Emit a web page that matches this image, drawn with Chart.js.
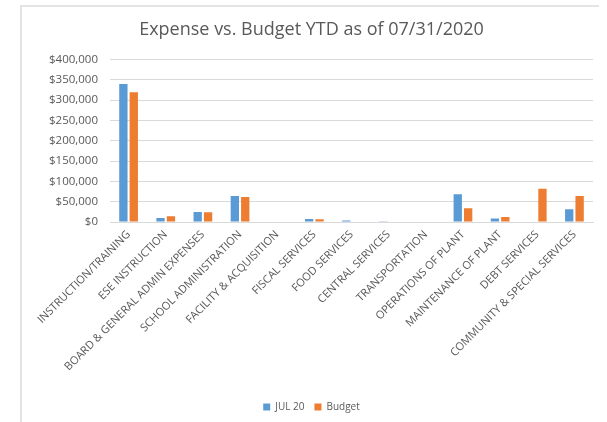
<!DOCTYPE html>
<html>
<head>
<meta charset="utf-8">
<script src="https://cdn.jsdelivr.net/npm/chart.js@4"></script>
<style>
  html, body { margin: 0; padding: 0; background: #fff; overflow: hidden; }
  #frame {
    position: absolute; left: 20px; top: 5px; width: 577px; height: 430px;
    border-left: 2px solid #e4e4e4; border-top: 2px solid #e4e4e4;
  }
  #chart { position: absolute; left: 30px; top: 5px; }
</style>
</head>
<body>
<div id="frame"></div>
<canvas id="chart" width="570" height="417"></canvas>
<script>
// categories and values
const categories = [
    'INSTRUCTION/TRAINING', 'ESE INSTRUCTION', 'BOARD & GENERAL ADMIN EXPENSES',
    'SCHOOL ADMINISTRATION', 'FACILITY & ACQUISITION', 'FISCAL SERVICES',
    'FOOD SERVICES', 'CENTRAL SERVICES', 'TRANSPORTATION', 'OPERATIONS OF PLANT',
    'MAINTENANCE OF PLANT', 'DEBT SERVICES', 'COMMUNITY & SPECIAL SERVICES'
];
const jul20 = [340000, 10000, 24500, 64000, 0, 7500, 3500, 2000, 0, 68200, 8500, 0, 31300];
const budget = [319600, 14200, 24000, 61500, 0, 6700, 0, 1500, 0, 34100, 12400, 81800, 63800];
const yTicks = [0, 50000, 100000, 150000, 200000, 250000, 300000, 350000, 400000];

const TEXT = '#595959';
const GRID = '#d9d9d9';

Chart.defaults.font.family = "'Open Sans', 'Liberation Sans', sans-serif";
Chart.defaults.color = TEXT;

new Chart(document.getElementById('chart'), {
    type: 'bar',
    data: {
        labels: categories,
        datasets: [
            { label: 'JUL 20', data: jul20, backgroundColor: '#5B9BD5' },
            { label: 'Budget', data: budget, backgroundColor: '#ED7D31' }
        ]
    },
    options: {
        responsive: false,
        animation: false,
        layout: { padding: { left: 0, right: 7, top: 0, bottom: 0 } },
        datasets: { bar: { categoryPercentage: 0.56, barPercentage: 0.8 } },
        plugins: {
            title: {
                display: true,
                text: 'Expense vs. Budget YTD as of 07/31/2020',
                color: TEXT,
                font: { size: 18, weight: 'normal' },
                padding: { top: 14, bottom: 19 }
            },
            legend: {
                position: 'bottom',
                labels: { boxWidth: 7, boxHeight: 7, font: { size: 10 }, padding: 10 }
            },
            tooltip: { enabled: false }
        },
        scales: {
            x: {
                grid: { display: false, drawTicks: false },
                border: { color: GRID, width: 1 },
                ticks: {
                    autoSkip: false, minRotation: 45, maxRotation: 45,
                    font: { size: 11 }, padding: 6, color: TEXT
                },
                afterFit(scale) { scale.height = 170; }
            },
            y: {
                min: 0, max: 400000,
                afterBuildTicks(scale) { scale.ticks = yTicks.map(v => ({ value: v })); },
                grid: { color: GRID, drawTicks: false },
                border: { display: false },
                ticks: {
                    font: { size: 11.5 }, padding: 12, color: TEXT,
                    callback: v => '$' + v.toLocaleString('en-US')
                },
                afterFit(scale) { scale.width = 80; }
            }
        }
    }
});
</script>
</body>
</html>
